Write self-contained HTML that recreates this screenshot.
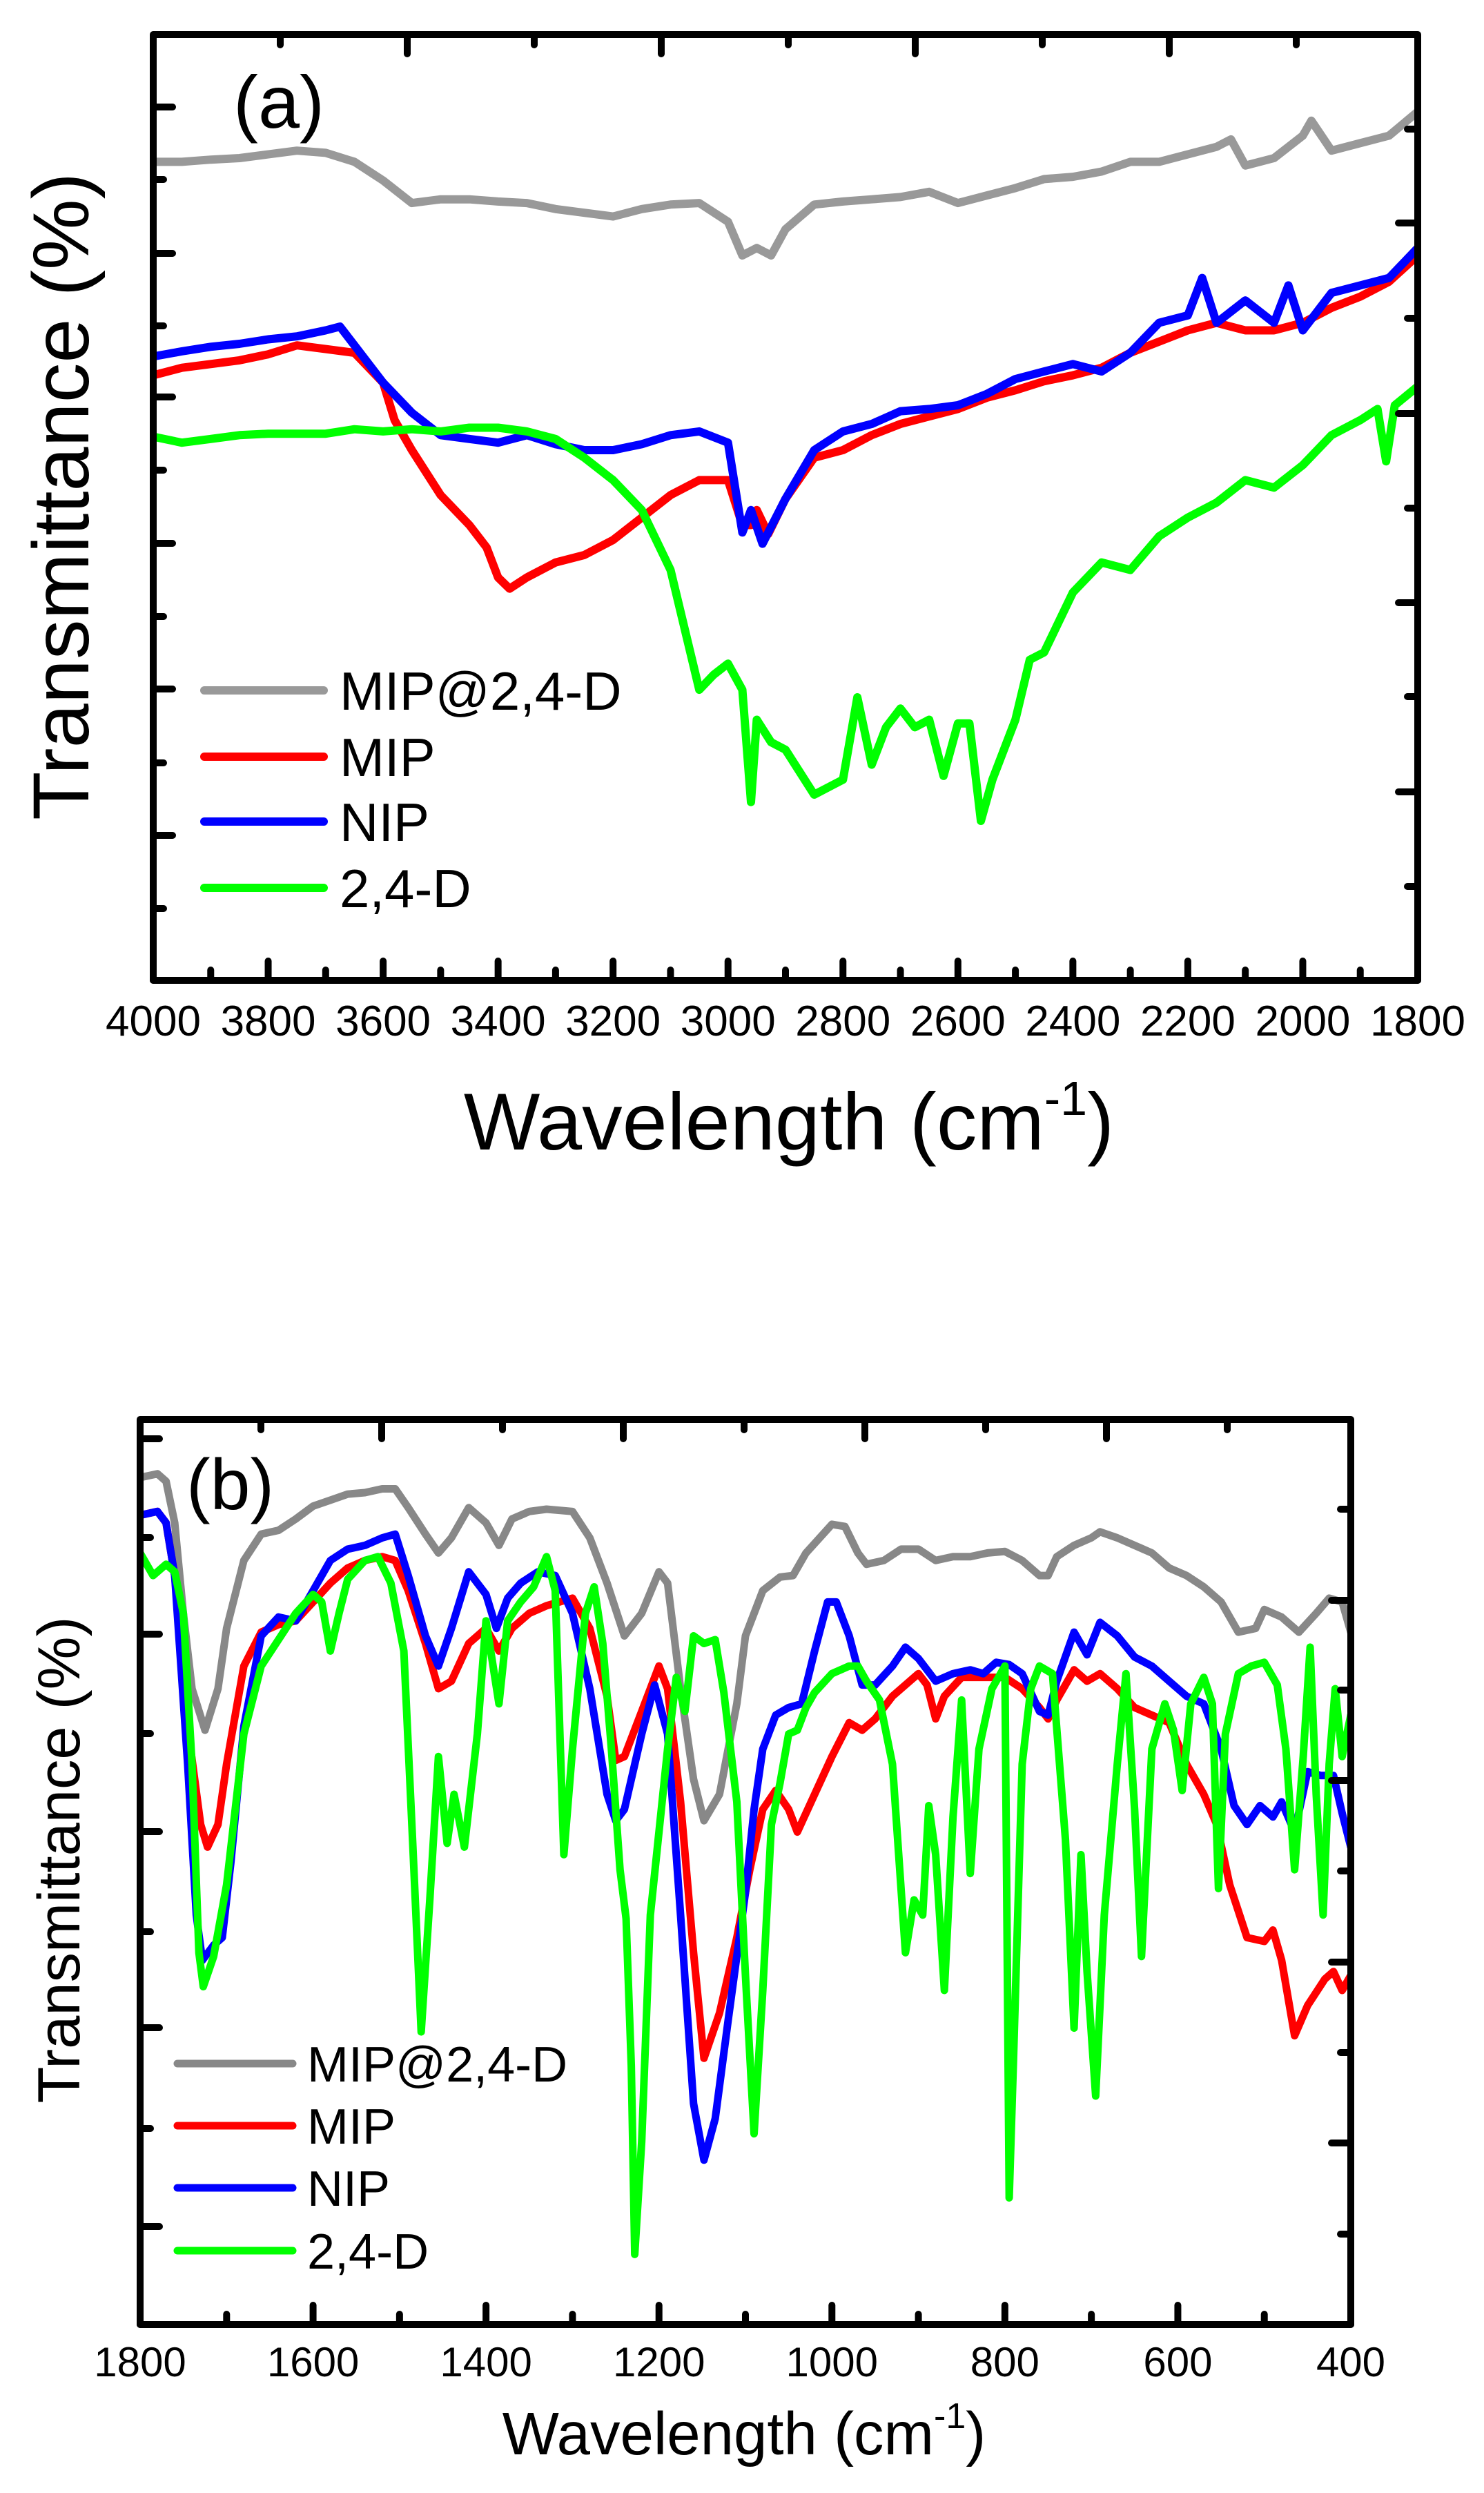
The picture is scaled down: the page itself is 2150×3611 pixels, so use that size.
<!DOCTYPE html>
<html><head><meta charset="utf-8"><title>FTIR spectra</title>
<style>
html,body{margin:0;padding:0;background:#fff;}
svg{display:block;}
text{font-family:"Liberation Sans",Arial,sans-serif;fill:#000;}
</style></head>
<body>
<svg id="chart" width="2150" height="3611" viewBox="0 0 2150 3611" xmlns="http://www.w3.org/2000/svg">
<rect x="0" y="0" width="2150" height="3611" fill="#fff"/>
<g id="panelA"></g>
<g id="panelB"></g>
</svg>
<script>
// ---------- Panel (a) data: wavenumber (cm-1) and transmittance (arbitrary units) ----------
const aGrayX = [4000,3950,3900,3850,3800,3750,3700,3650,3600,3550,3500,3450,3400,3350,3300,3250,3200,3150,3100,3050,3000,2975,2950,2925,2900,2850,2800,2750,2700,2650,2600,2550,2500,2450,2400,2350,2300,2250,2200,2150,2125,2100,2050,2000,1985,1950,1900,1850,1800];
const aGrayY = [1093,1093,1096,1098,1103,1108,1105,1093,1068,1038,1043,1043,1040,1038,1030,1025,1020,1030,1036,1038,1013,968,978,968,1003,1036,1040,1043,1046,1053,1038,1048,1058,1070,1073,1080,1093,1093,1103,1113,1123,1088,1098,1128,1148,1108,1118,1128,1160];
const aRedX = [4000,3950,3900,3850,3800,3750,3700,3650,3600,3580,3550,3500,3450,3420,3400,3380,3350,3300,3250,3200,3150,3100,3050,3000,2975,2960,2950,2930,2900,2850,2800,2750,2700,2650,2600,2550,2500,2450,2400,2350,2300,2250,2200,2150,2100,2050,2000,1950,1900,1850,1800];
const aRedY = [808,818,823,828,836,848,843,838,798,748,708,648,608,578,538,523,538,558,568,588,618,648,668,668,608,608,628,596,643,698,708,728,743,753,763,778,788,800,808,818,838,853,868,878,868,868,878,898,913,933,968];
const aBlueX = [4000,3950,3900,3850,3800,3750,3700,3675,3650,3600,3550,3500,3450,3400,3350,3300,3250,3200,3150,3100,3050,3000,2975,2960,2940,2900,2850,2800,2750,2700,2650,2600,2550,2500,2450,2400,2350,2300,2250,2200,2175,2150,2100,2050,2025,2000,1950,1900,1850,1800];
const aBlueY = [833,840,846,850,856,860,868,873,848,798,758,728,723,718,728,716,708,708,716,728,733,718,598,628,583,643,708,733,743,760,763,768,783,803,813,823,813,838,878,888,938,878,908,878,928,868,918,928,938,978];
const aGreenX = [4000,3950,3900,3850,3800,3750,3700,3650,3600,3550,3500,3450,3400,3350,3300,3250,3200,3150,3100,3075,3050,3025,3000,2975,2960,2950,2925,2900,2850,2800,2775,2750,2725,2700,2675,2650,2625,2600,2580,2560,2540,2500,2475,2450,2400,2350,2300,2250,2200,2150,2100,2050,2000,1950,1900,1870,1855,1840,1800];
const aGreenY = [726,718,723,728,730,730,730,736,733,736,733,738,738,733,723,698,668,628,548,468,388,408,423,388,238,348,318,308,248,268,378,288,338,363,338,348,273,343,343,213,268,348,428,438,518,558,548,593,618,638,668,658,688,728,748,763,693,768,793];
const aXTicks = [4000,3800,3600,3400,3200,3000,2800,2600,2400,2200,2000,1800];
const aXTickLabels = ["4000","3800","3600","3400","3200","3000","2800","2600","2400","2200","2000","1800"];

// ---------- Panel (b) data ----------
const bGrayX = [1800,1780,1770,1760,1750,1740,1725,1710,1700,1680,1660,1640,1620,1600,1580,1560,1540,1520,1505,1490,1470,1455,1440,1420,1400,1385,1370,1350,1330,1300,1280,1260,1240,1220,1200,1190,1175,1160,1148,1130,1110,1100,1080,1060,1045,1030,1000,985,970,960,940,920,900,880,860,840,820,800,780,760,750,740,720,700,690,670,650,630,610,590,570,550,530,510,500,480,460,440,425,410,400];
const bGrayY = [1123,1128,1118,1063,943,843,788,843,923,1013,1048,1053,1068,1085,1093,1101,1103,1108,1108,1083,1048,1023,1043,1083,1063,1033,1068,1078,1081,1078,1043,983,913,943,998,983,843,723,668,703,823,913,973,991,993,1023,1061,1058,1023,1008,1013,1028,1028,1013,1018,1018,1023,1025,1013,993,993,1018,1033,1043,1051,1043,1033,1023,1003,993,978,958,918,923,948,938,918,943,963,958,918];
const bRedX = [1800,1780,1770,1760,1745,1730,1722,1710,1700,1680,1660,1640,1620,1600,1580,1560,1540,1520,1505,1490,1470,1455,1440,1420,1400,1385,1370,1350,1330,1300,1280,1260,1250,1240,1220,1200,1190,1175,1160,1148,1130,1110,1095,1080,1065,1050,1040,1020,1000,980,965,950,930,910,900,890,880,870,850,830,800,780,760,750,740,720,705,690,670,650,630,610,590,570,555,540,520,500,490,480,465,450,430,420,410,400];
const bRedY = [1073,1078,1063,993,793,663,633,663,743,873,918,928,933,958,983,1003,1013,1018,1013,973,903,843,853,903,923,893,923,943,953,963,923,833,748,753,813,873,843,693,493,353,413,513,603,683,708,683,653,703,753,798,788,803,833,853,863,848,803,833,858,858,858,843,818,803,828,868,853,863,843,818,808,798,743,703,663,583,513,508,523,483,383,423,458,468,443,463];
const bBlueX = [1800,1780,1770,1760,1745,1735,1728,1715,1705,1695,1680,1660,1640,1620,1600,1580,1560,1540,1520,1505,1490,1470,1455,1440,1420,1400,1388,1375,1360,1340,1320,1300,1280,1260,1250,1240,1220,1205,1190,1175,1160,1148,1135,1120,1100,1090,1080,1065,1050,1035,1020,1005,995,980,965,950,930,915,900,880,860,840,825,810,795,780,760,750,740,720,705,690,670,650,630,610,590,570,550,535,520,505,490,480,465,450,435,420,410,400];
const bBlueY = [1073,1078,1063,993,743,543,483,503,513,613,793,913,938,933,973,1013,1028,1033,1043,1048,993,913,873,923,998,968,923,963,983,998,993,943,843,703,668,683,783,848,783,543,293,218,273,403,573,683,763,808,818,823,893,958,958,913,848,848,873,898,883,853,863,868,863,878,875,863,813,808,853,918,888,931,913,885,873,853,833,823,763,688,663,688,673,693,653,733,728,728,678,633];
const bGreenX = [1800,1785,1770,1760,1750,1740,1732,1727,1715,1700,1680,1660,1640,1620,1600,1590,1580,1570,1560,1540,1525,1510,1495,1485,1475,1465,1455,1445,1437,1425,1410,1400,1385,1375,1360,1345,1330,1320,1310,1300,1285,1275,1265,1255,1245,1238,1232,1228,1220,1210,1190,1180,1170,1160,1148,1135,1125,1110,1100,1090,1080,1070,1060,1050,1040,1030,1020,1000,980,970,960,945,930,915,905,895,888,880,870,860,850,840,830,815,800,795,790,780,770,760,745,730,720,712,705,695,685,670,660,650,642,630,615,605,595,585,570,560,553,545,530,515,500,485,475,465,455,447,440,432,425,418,410,400];
const bGreenY = [1023,993,1008,998,943,743,493,448,488,583,783,873,908,943,968,958,893,943,988,1013,1018,983,893,643,388,563,753,638,703,633,783,933,823,933,958,978,1018,973,623,763,943,978,903,763,603,538,343,93,243,543,763,858,813,913,903,908,838,693,463,253,443,663,718,783,788,818,838,863,873,873,853,828,743,493,563,543,688,623,443,673,828,598,763,843,873,168,353,743,843,873,863,643,393,623,468,303,543,743,863,683,488,763,823,788,708,823,858,823,578,783,863,873,878,848,763,603,753,898,703,543,743,843,753,808];
const bXTicks = [1800,1600,1400,1200,1000,800,600,400];
const bXTickLabels = ["1800","1600","1400","1200","1000","800","600","400"];

const legendLabels = ["MIP@2,4-D","MIP","NIP","2,4-D"];

const NS = "http://www.w3.org/2000/svg";
function mk(parent, tag, attrs){
  const el = document.createElementNS(NS, tag);
  for (const k in attrs) el.setAttribute(k, attrs[k]);
  parent.appendChild(el);
  return el;
}

// ---------- panel (a) geometry ----------
const A = {L:222, R:2054, T:50, B:1420, wn0:4000, wn1:1800, vScale:1.0847};
const B = {L:203, R:1957, T:2056, B:3367, wn0:1800, wn1:400, vScale:1.0925};
function xA(w){ return A.L + (A.wn0 - w) / (A.wn0 - A.wn1) * (A.R - A.L); }
function yA(v){ return A.B - v * A.vScale; }
function xB(w){ return B.L + (B.wn0 - w) / (B.wn0 - B.wn1) * (B.R - B.L); }
function yB(v){ return B.B - v * B.vScale; }

const gA = document.getElementById('panelA');
const gB = document.getElementById('panelB');

// clip paths
const defs = mk(document.getElementById('chart'), 'defs', {});
const cpA = mk(defs, 'clipPath', {id:'clipA'});
mk(cpA, 'rect', {x:A.L, y:A.T, width:A.R-A.L, height:A.B-A.T});
const cpB = mk(defs, 'clipPath', {id:'clipB'});
mk(cpB, 'rect', {x:B.L, y:B.T, width:B.R-B.L, height:B.B-B.T});

function drawSeries(g, xs, ys, xf, yf, color, width, name, clip){
  let d = "";
  for (let i = 0; i < xs.length; i++){
    d += (i ? "L" : "M") + xf(xs[i]).toFixed(1) + "," + yf(ys[i]).toFixed(1);
  }
  const p = mk(g, 'path', {d:d, fill:'none', stroke:color, 'stroke-width':width, 'stroke-linejoin':'round', 'stroke-linecap':'round', 'clip-path':'url(#'+clip+')'});
  
  
}

function drawFrame(g, P, name){
  const r = mk(g, 'rect', {x:P.L, y:P.T, width:P.R-P.L, height:P.B-P.T, fill:'none', stroke:'#000', 'stroke-width':10, 'stroke-linejoin':'round'});
  
  
}

function tick(g, x1, y1, x2, y2, name){
  const l = mk(g, 'line', {x1:x1, y1:y1, x2:x2, y2:y2, stroke:'#000', 'stroke-width':10, 'stroke-linecap':'round'});
  
  
}

function txt(g, x, y, s, size, anchor, name, extra){
  const t = mk(g, 'text', Object.assign({x:x, y:y, 'font-size':size, 'text-anchor':anchor}, extra || {}));
  t.textContent = s;
  
  
  return t;
}

// ================= Panel A =================
drawSeries(gA, aGrayX, aGrayY, xA, yA, '#999999', 12, 'series-mip-2-4-d', 'clipA');
drawSeries(gA, aRedX, aRedY, xA, yA, '#ff0000', 12, 'series-mip', 'clipA');
drawSeries(gA, aBlueX, aBlueY, xA, yA, '#0000ff', 12, 'series-nip', 'clipA');
drawSeries(gA, aGreenX, aGreenY, xA, yA, '#00ff00', 12, 'series-2-4-d', 'clipA');
drawFrame(gA, A, 'plot-frame-a');
// bottom ticks (major every 200, minor every 100)
for (let w = A.wn0; w >= A.wn1; w -= 100){
  const major = (w % 200 === 0);
  tick(gA, xA(w), A.B, xA(w), A.B - (major ? 28 : 15), 'x-tick-a');
}
aXTicks.forEach((w, i) => {
  txt(gA, xA(w), 1500, aXTickLabels[i], 62, 'middle', 'x-tick-label-a');
});
// top ticks
for (let k = 1; k < 10; k++){
  const x = A.L + k * 184;
  if (x >= A.R - 5) break;
  tick(gA, x, A.T, x, A.T + (k % 2 === 0 ? 28 : 15), 'top-tick-a');
}
// left ticks
[155,260,367,472,575,681,787,893,998,1105,1210,1316].forEach((y, i) => {
  tick(gA, A.L, y, A.L + (i % 2 === 0 ? 28 : 15), y, 'y-tick-left-a');
});
// right ticks
[187,323,461,599,736,873,1009,1147,1284].forEach((y, i) => {
  tick(gA, A.R, y, A.R - (i % 2 === 1 ? 28 : 15), y, 'y-tick-right-a');
});
txt(gA, 338, 185, '(a)', 108, 'start', 'panel-label-a');
// axis titles
const yTa = txt(gA, 128, 719, 'Transmittance (%)', 115, 'middle', 'y-axis-title-a', {transform:'rotate(-90 128 719)', textLength:938, lengthAdjust:'spacingAndGlyphs'});
const xTa = txt(gA, 1143, 1665, '', 117, 'middle', 'x-axis-title-a');
xTa.innerHTML = 'Wavelength (cm<tspan font-size="70" dy="-50">-1</tspan><tspan dy="50">)</tspan>';
// legend
const aLegColors = ['#999999','#ff0000','#0000ff','#00ff00'];
[1000,1096,1190,1286].forEach((y, i) => {
  const l = mk(gA, 'line', {x1:296, y1:y, x2:469, y2:y, stroke:aLegColors[i], 'stroke-width':12, 'stroke-linecap':'round'});
  
  
  txt(gA, 492, y + 28, legendLabels[i], 78, 'start', 'legend-entry-a');
});

// ================= Panel B =================
drawSeries(gB, bGrayX, bGrayY, xB, yB, '#888888', 11, 'series-mip-2-4-d-b', 'clipB');
drawSeries(gB, bRedX, bRedY, xB, yB, '#ff0000', 11, 'series-mip-b', 'clipB');
drawSeries(gB, bBlueX, bBlueY, xB, yB, '#0000ff', 11, 'series-nip-b', 'clipB');
drawSeries(gB, bGreenX, bGreenY, xB, yB, '#00ff00', 11, 'series-2-4-d-b', 'clipB');
drawFrame(gB, B, 'plot-frame-b');
for (let w = B.wn0; w >= B.wn1; w -= 100){
  const major = (w % 200 === 0);
  tick(gB, xB(w), B.B, xB(w), B.B - (major ? 28 : 15), 'x-tick-b');
}
bXTicks.forEach((w, i) => {
  txt(gB, xB(w), 3442, bXTickLabels[i], 60, 'middle', 'x-tick-label-b');
});
for (let k = 1; k < 12; k++){
  const x = B.L + k * 175;
  if (x >= B.R - 5) break;
  tick(gB, x, B.T, x, B.T + (k % 2 === 0 ? 28 : 15), 'top-tick-b');
}
[2084,2227,2367,2511,2653,2798,2937,3083,3225].forEach((y, i) => {
  tick(gB, B.L, y, B.L + (i % 2 === 0 ? 28 : 15), y, 'y-tick-left-b');
});
[2186,2318,2448,2579,2710,2842,2973,3104,3236].forEach((y, i) => {
  tick(gB, B.R, y, B.R - (i % 2 === 1 ? 28 : 15), y, 'y-tick-right-b');
});
txt(gB, 270, 2186, '(b)', 104, 'start', 'panel-label-b');
txt(gB, 115, 2694, 'Transmittance (%)', 86, 'middle', 'y-axis-title-b', {transform:'rotate(-90 115 2694)', textLength:705, lengthAdjust:'spacingAndGlyphs'});
const xTb = txt(gB, 1078, 3555, '', 87, 'middle', 'x-axis-title-b');
xTb.innerHTML = 'Wavelength (cm<tspan font-size="52" dy="-38">-1</tspan><tspan dy="38">)</tspan>';
const bLegColors = ['#888888','#ff0000','#0000ff','#00ff00'];
[2989,3079,3169,3260].forEach((y, i) => {
  const l = mk(gB, 'line', {x1:257, y1:y, x2:424, y2:y, stroke:bLegColors[i], 'stroke-width':11, 'stroke-linecap':'round'});
  
  
  txt(gB, 445, y + 26, legendLabels[i], 72, 'start', 'legend-entry-b');
});
</script>
</body></html>
